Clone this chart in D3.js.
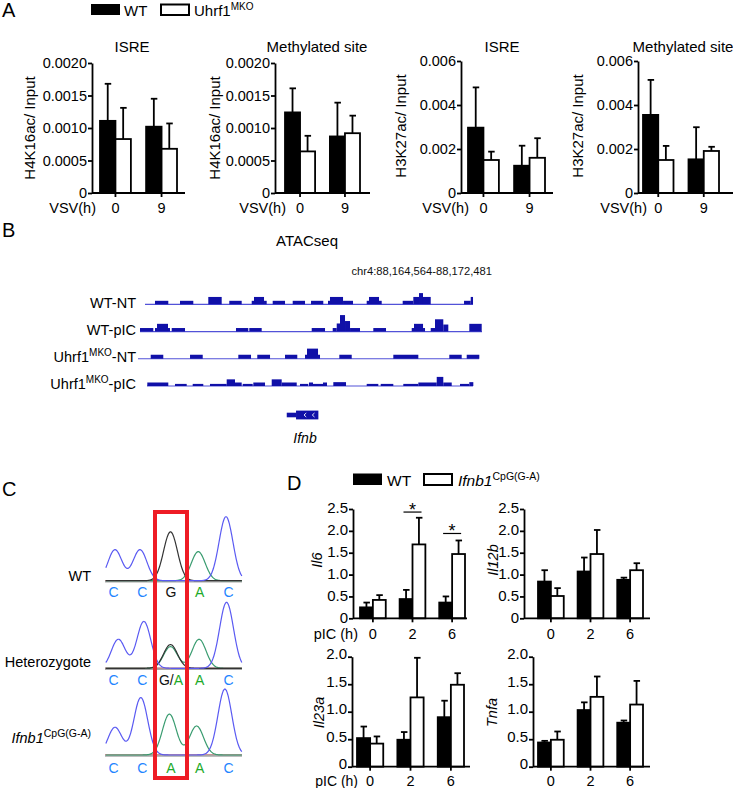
<!DOCTYPE html>
<html><head><meta charset="utf-8">
<script src="https://cdn.jsdelivr.net/npm/d3@7"></script>
<style>
body{margin:0;background:#fff;}
svg{display:block;font-family:"Liberation Sans",Arial,Helvetica,sans-serif;}
</style></head><body>
<svg id="fig" width="733" height="788"></svg>
<script>
// ================= DATA =================
// Panel A : ChIP-qPCR (mean, SEM), groups = VSV time (h)
const vsvTimes = ["0", "9"];
const legendA = ["WT", "Uhrf1", "MKO"];
const titlesA = ["ISRE", "Methylated site", "ISRE", "Methylated site"];
const ylabelsA = ["H4K16ac/ Input", "H4K16ac/ Input", "H3K27ac/ Input", "H3K27ac/ Input"];
const ticksH4 = [0, 0.0005, 0.0010, 0.0015, 0.0020];
const ticksH3 = [0, 0.002, 0.004, 0.006];
const h4IsreWT = [0.00111, 0.00102],  h4IsreWTsem = [0.00057, 0.00043];
const h4IsreKO = [0.00083, 0.00068],  h4IsreKOsem = [0.00048, 0.00039];
const h4MethWT = [0.00124, 0.00087],  h4MethWTsem = [0.00037, 0.00052];
const h4MethKO = [0.00064, 0.00092],  h4MethKOsem = [0.00024, 0.00027];
const h3IsreWT = [0.00297, 0.00124],  h3IsreWTsem = [0.00183, 0.00091];
const h3IsreKO = [0.00150, 0.00160],  h3IsreKOsem = [0.00038, 0.00089];
const h3MethWT = [0.00355, 0.00153],  h3MethWTsem = [0.00159, 0.00146];
const h3MethKO = [0.00150, 0.00191],  h3MethKOsem = [0.00064, 0.00019];

// Panel B : ATAC-seq tracks (bp offsets from chr4:88,164,564; signal units)
const atacTitle = "ATACseq";
const atacRegion = "chr4:88,164,564-88,172,481";
const atacLength = 7917;
const atacTracks = ["WT-NT", "WT-pIC", "Uhrf1MKO-NT", "Uhrf1MKO-pIC"];
const atacSpan = [[116, 7709], [0, 7917], [-46, 7848], [162, 7709]];
const atacWTNT = [[347,655,1],[926,1234,1],[1581,1891,2.1],[2067,2354,1],
  [2586,2639,1],[2639,2871,2.1],[2871,2933,1],[3072,3357,1],[3535,3820,1],[3959,4243,1],
  [4352,4398,1],[4398,4700,2.1],[4700,4931,1],[5248,5301,1],[5301,5533,2.1],[5533,5595,1],
  [6081,6327,1],[6327,6459,2.1],[6459,6551,3.2],[6551,6730,2.1],[7501,7656,1],[7656,7709,2.1]];
const atacWTpIC = [[0,308,1],[347,394,1],[394,648,2.2],[648,694,1],[734,1042,1],
  [2222,2507,1],[2530,2817,1],[3975,4283,1],
  [4461,4554,1],[4554,4630,2.3],[4630,4746,4.7],[4746,4862,3],[4862,5093,1],[5401,5695,1],
  [6290,6343,1],[6343,6552,2.2],[6552,6598,1],[6730,6829,1],[6829,7021,3.5],[7021,7137,2],
  [7623,7910,2.2]];
const atacKONT = [[248,539,1.15],[1158,1452,1.15],[2276,2570,1.15],[2715,3010,1.15],[3357,3641,1.15],
  [3820,3866,1.15],[3866,4121,2.9],[4121,4167,1.15],[4614,4901,1.15],[5864,6443,1.15],
  [7160,7447,1.15],[7563,7855,1.15]];
const atacKOpIC = [[169,655,1],[810,1081,0.6],[1220,1465,0.6],[1620,2007,0.6],[2007,2199,1.9],
  [2199,2354,1],[2377,2609,0.6],[2623,2894,1],[3049,3280,1.9],[3280,3628,1],[3704,3896,0.6],
  [3912,4005,1],[4005,4236,0.6],[4236,4329,1],[4475,4769,1.1],[5248,5517,0.6],[5572,5864,0.6],
  [6095,6443,0.6],[6443,6869,1],[6869,7021,2.6],[7021,7216,1],[7408,7623,0.6],[7623,7716,1.1]];
const geneName = "Ifnb";
const geneStart = 3397, geneCdsStart = 3612, geneEnd = 4129;
const geneArrows = [3820, 4012];

// Panel C : Sanger chromatograms. peaks: [channel, base position, amplitude]
const chromSamples = ["WT", "Heterozygote", "Ifnb1"];
const baseCalls = [["C","C","G","A","C"], ["C","C","G/A","A","C"], ["C","C","A","A","C"]];
const peaksWT  = [["C",0.0,47],["C",0.9,47],["G",2.0,74],["A",3.0,44],["C",4.0,97]];
const peaksHet = [["C",0.12,44],["C",1.04,71],["G",2.0,36],["A",2.0,33],["A",3.03,44],["C",4.02,100]];
const peaksMut = [["C",0.0,42],["C",0.93,87],["A",1.96,62],["A",2.94,44],["C",3.96,100]];

// Panel D : qPCR (mean, SEM), groups = pIC time (h)
const picTimes = ["0", "2", "6"];
const legendD = ["WT", "Ifnb1", "CpG(G-A)"];
const genesD = ["Il6", "Il12b", "Il23a", "Tnfa"];
const ticksDtop = [0, 0.5, 1.0, 1.5, 2.0, 2.5];
const ticksDbot = [0, 0.5, 1.0, 1.5, 2.0];
const il6WT  = [0.25, 0.44, 0.36], il6WTsem  = [0.11, 0.21, 0.14];
const il6KO  = [0.42, 1.69, 1.47], il6KOsem  = [0.11, 0.61, 0.31];
const il12bWT = [0.84, 1.07, 0.88], il12bWTsem = [0.26, 0.32, 0.05];
const il12bKO = [0.51, 1.47, 1.10], il12bKOsem = [0.18, 0.55, 0.16];
const il23aWT = [0.52, 0.49, 0.90], il23aWTsem = [0.21, 0.14, 0.30];
const il23aKO = [0.42, 1.26, 1.49], il23aKOsem = [0.13, 0.72, 0.21];
const tnfaWT = [0.44, 1.03, 0.80], tnfaWTsem = [0.03, 0.14, 0.04];
const tnfaKO = [0.49, 1.27, 1.13], tnfaKOsem = [0.15, 0.37, 0.43];
const il6Sig = [["2", 2.43], ["6", 1.94]];

// ================= DRAWING =================
const svg = d3.select("#fig");
const SW = 1.8;

function fmtTick(dec) { return v => v === 0 ? "0" : d3.format("." + dec + "f")(v); }

function barChart(c) {
  const g = svg.append("g");
  const y = d3.scaleLinear().domain([0, c.ticks[c.ticks.length - 1]]).range([c.y0, c.yTop]);
  const xb = d3.scaleBand().domain(c.groups).range(c.band).paddingInner(c.padIn).paddingOuter(0);
  const xs = d3.scaleBand().domain(["WT", "KO"]).range([0, xb.bandwidth()]);
  const rows = [];
  c.groups.forEach((grp, i) => {
    rows.push({grp, s: "WT", v: c.wt[i], e: c.wtSem[i]});
    rows.push({grp, s: "KO", v: c.ko[i], e: c.koSem[i]});
  });
  rows.forEach(d => {
    const cx = xb(d.grp) + xs(d.s) + xs.bandwidth() / 2;
    g.append("line").attr("x1", cx).attr("x2", cx).attr("y1", y(d.v)).attr("y2", y(d.v + d.e))
      .attr("stroke", "#000").attr("stroke-width", SW);
    g.append("line").attr("x1", cx - 3).attr("x2", cx + 3.5).attr("y1", y(d.v + d.e)).attr("y2", y(d.v + d.e))
      .attr("stroke", "#000").attr("stroke-width", SW);
  });
  g.selectAll("rect.bar").data(rows).join("rect").attr("class", "bar")
    .attr("x", d => xb(d.grp) + xs(d.s)).attr("width", xs.bandwidth())
    .attr("y", d => y(d.v)).attr("height", d => c.y0 - y(d.v))
    .attr("fill", d => d.s === "WT" ? "#000" : "#fff")
    .attr("stroke", "#000").attr("stroke-width", SW);
  const ya = g.append("g").attr("transform", `translate(${c.axisX},0)`)
    .call(d3.axisLeft(y).tickValues(c.ticks).tickFormat(fmtTick(c.dec)).tickSize(4).tickPadding(1).tickSizeOuter(0));
  ya.selectAll("path,line").attr("stroke", "#000").attr("stroke-width", SW);
  ya.selectAll("text").attr("font-size", c.tickFs).attr("fill", "#000").attr("font-family", null);
  if (c.tickDy) ya.selectAll("text").attr("dy", c.tickDy);
  g.append("line").attr("x1", c.axisX).attr("x2", c.axisEnd).attr("y1", c.y0).attr("y2", c.y0)
    .attr("stroke", "#000").attr("stroke-width", SW);
  c.groups.forEach(grp => {
    const cx = xb(grp) + xb.bandwidth() / 2;
    g.append("line").attr("x1", cx).attr("x2", cx).attr("y1", c.y0).attr("y2", c.y0 + 4)
      .attr("stroke", "#000").attr("stroke-width", SW);
    g.append("text").attr("x", cx).attr("y", c.y0 + c.xLabOff).attr("text-anchor", "middle")
      .attr("font-size", 14.5).text(grp);
  });
  if (c.xTitle) {
    g.append("text").attr("x", c.xTitleX).attr("y", c.y0 + c.xLabOff)
      .attr("text-anchor", "end").attr("font-size", c.xTitleFs || 14.5).text(c.xTitle);
  }
  if (c.title) {
    g.append("text").attr("x", c.titleX).attr("y", c.titleY).attr("text-anchor", "middle")
      .attr("font-size", 15).text(c.title);
  }
  g.append("text").attr("transform", `translate(${c.ylabX},${c.ylabY}) rotate(-90)`)
    .attr("text-anchor", "middle").attr("font-size", c.ylabFs)
    .attr("font-style", c.italic ? "italic" : null).text(c.ylab);
  return {g, xb, xs, y};
}

// ---------- panel letters ----------
[["A", 2, 17], ["B", 2, 237], ["C", 2, 496], ["D", 287, 490]].forEach(([t, x, y]) =>
  svg.append("text").attr("x", x).attr("y", y).attr("font-size", 20).text(t));

// ---------- Panel A ----------
{
  const lg = svg.append("g");
  lg.append("rect").attr("x", 91).attr("y", 4).attr("width", 29).attr("height", 11).attr("fill", "#000");
  lg.append("text").attr("x", 124).attr("y", 15.5).attr("font-size", 15).text(legendA[0]);
  lg.append("rect").attr("x", 161).attr("y", 4.5).attr("width", 28).attr("height", 10.5)
    .attr("fill", "#fff").attr("stroke", "#000").attr("stroke-width", 2);
  const t = lg.append("text").attr("x", 194).attr("y", 15.5).attr("font-size", 15);
  t.append("tspan").text(legendA[1]);
  t.append("tspan").attr("font-size", 10).attr("dy", -6).text(legendA[2]);

  const common = {groups: vsvTimes, y0: 193, padIn: 0.33, xLabOff: 19.7, tickFs: 14.5, ylabFs: 15, xTitle: "VSV(h)", titleY: 52};
  barChart(Object.assign({}, common, {wt: h4IsreWT, wtSem: h4IsreWTsem, ko: h4IsreKO, koSem: h4IsreKOsem,
    ticks: ticksH4, dec: 4, yTop: 63, axisX: 92, axisEnd: 185, band: [100, 177], xTitleX: 96,
    title: titlesA[0], titleX: 132, ylab: ylabelsA[0], ylabX: 34.5, ylabY: 128}));
  barChart(Object.assign({}, common, {wt: h4MethWT, wtSem: h4MethWTsem, ko: h4MethKO, koSem: h4MethKOsem,
    ticks: ticksH4, dec: 4, yTop: 63, axisX: 275, axisEnd: 370, band: [285, 360], xTitleX: 286,
    title: titlesA[1], titleX: 317, ylab: ylabelsA[1], ylabX: 219.5, ylabY: 128}));
  barChart(Object.assign({}, common, {wt: h3IsreWT, wtSem: h3IsreWTsem, ko: h3IsreKO, koSem: h3IsreKOsem,
    ticks: ticksH3, dec: 3, yTop: 61, axisX: 461, axisEnd: 553, band: [468, 545], xTitleX: 469,
    title: titlesA[2], titleX: 502, ylab: ylabelsA[2], ylabX: 406, ylabY: 126}));
  barChart(Object.assign({}, common, {wt: h3MethWT, wtSem: h3MethWTsem, ko: h3MethKO, koSem: h3MethKOsem,
    ticks: ticksH3, dec: 3, yTop: 61, axisX: 638, axisEnd: 733, band: [643, 719], xTitleX: 647,
    title: titlesA[3], titleX: 683, ylab: ylabelsA[3], ylabX: 583, ylabY: 126}));
}

// ---------- Panel B ----------
{
  const g = svg.append("g");
  g.append("text").attr("x", 307).attr("y", 246).attr("text-anchor", "middle").attr("font-size", 15).text(atacTitle);
  g.append("text").attr("x", 492).attr("y", 275).attr("text-anchor", "end").attr("font-size", 11.2).attr("fill", "#111").text(atacRegion);
  const xG = d3.scaleLinear().domain([0, atacLength]).range([140, 482]);
  const trackY = d3.scalePoint().domain(atacTracks).range([304.3, 386]);
  const sig = d3.scaleLinear().domain([0, 1]).range([0, 3.5]);
  const peaksAll = [atacWTNT, atacWTpIC, atacKONT, atacKOpIC];
  atacTracks.forEach((t, i) => {
    const yb = trackY(t);
    g.append("line").attr("x1", xG(atacSpan[i][0])).attr("x2", xG(atacSpan[i][1]))
      .attr("y1", yb).attr("y2", yb).attr("stroke", "#5252d8").attr("stroke-width", 1.2);
    g.selectAll(null).data(peaksAll[i]).join("rect")
      .attr("x", d => xG(d[0])).attr("width", d => xG(d[1]) - xG(d[0]))
      .attr("y", d => yb - sig(d[2])).attr("height", d => sig(d[2])).attr("fill", "#1010a8");
    const lab = g.append("text").attr("x", 136).attr("y", yb + 3.4).attr("text-anchor", "end").attr("font-size", 14.5);
    if (t.startsWith("Uhrf1MKO")) {
      lab.append("tspan").text("Uhrf1");
      lab.append("tspan").attr("font-size", 10).attr("dy", -6).text("MKO");
      lab.append("tspan").attr("dy", 6).text(t.replace("Uhrf1MKO", ""));
    } else lab.text(t);
  });
  const gy = 415;
  g.append("rect").attr("x", xG(geneStart)).attr("width", xG(geneCdsStart) - xG(geneStart))
    .attr("y", gy - 2.3).attr("height", 4.6).attr("fill", "#1010a8");
  g.append("rect").attr("x", xG(geneCdsStart)).attr("width", xG(geneEnd) - xG(geneCdsStart))
    .attr("y", gy - 4.4).attr("height", 8.8).attr("fill", "#1010a8");
  geneArrows.forEach(p => {
    const ax = xG(p);
    g.append("path").attr("d", `M${ax + 1.2},${gy - 2} L${ax - 1},${gy} L${ax + 1.2},${gy + 2}`)
      .attr("fill", "none").attr("stroke", "#fff").attr("stroke-width", 0.9);
  });
  g.append("text").attr("x", 305).attr("y", 443).attr("text-anchor", "middle")
    .attr("font-size", 14).attr("font-style", "italic").text(geneName);
}

// ---------- Panel C ----------
{
  const g = svg.append("g");
  const traceCol = {C: "#5a5af2", G: "#333333", A: "#3a9c70", T: "#e0303a"};
  const callCol = {C: "#1f86ff", G: "#111111", A: "#1eaa2a"};
  const baselines = [580.7, 668.3, 755];
  const labelY = [580.5, 667, 743];
  const callY = [597, 685, 773];
  const allPeaks = [peaksWT, peaksHet, peaksMut];
  const xPeak = d3.scaleLinear().domain([0, 4]).range([115, 226]);
  const xCall = d3.scalePoint().domain(d3.range(5)).range([113.5, 228.5]);
  const sigma = 0.25;
  chromSamples.forEach((name, si) => {
    const yb = baselines[si];
    const amp = d3.scaleLinear().domain([0, 100]).range([yb, yb - 66]);
    g.append("line").attr("x1", 105).attr("x2", 242).attr("y1", yb + 0.5).attr("y2", yb + 0.5)
      .attr("stroke", "#a8a8a8").attr("stroke-width", 2.5);
    g.append("line").attr("x1", 105).attr("x2", 242).attr("y1", yb - 0.3).attr("y2", yb - 0.3)
      .attr("stroke", traceCol.T).attr("stroke-width", 0.6).attr("opacity", 0.6);
    const pk = allPeaks[si];
    const tGrid = d3.range(-0.33, 4.58, 0.02);
    ["A", "G", "C"].forEach(ch => {
      const mine = pk.filter(p => p[0] === ch);
      if (!mine.length) return;
      const pts = tGrid.map(t => [xPeak(t), amp(d3.sum(mine, p => p[2] * Math.exp(-((t - p[1]) ** 2) / (2 * sigma * sigma))))]);
      g.append("path").attr("d", d3.line().curve(d3.curveBasis)(pts))
        .attr("fill", "none").attr("stroke", traceCol[ch]).attr("stroke-width", 1.2);
    });
    baseCalls[si].forEach((b, bi) => {
      const tx = g.append("text").attr("x", xCall(bi)).attr("y", callY[si]).attr("text-anchor", "middle").attr("font-size", 14);
      if (b.includes("/")) {
        const [b1, b2] = b.split("/");
        tx.append("tspan").attr("fill", callCol[b1]).text(b1 + "/");
        tx.append("tspan").attr("fill", callCol[b2]).text(b2);
      } else tx.attr("fill", callCol[b]).text(b);
    });
    const lab = g.append("text").attr("x", 91).attr("y", labelY[si]).attr("text-anchor", "end").attr("font-size", 14.5);
    if (name === "Ifnb1") {
      lab.append("tspan").attr("font-style", "italic").text("Ifnb1");
      lab.append("tspan").attr("font-size", 10.5).attr("dy", -6).text(legendD[2]);
    } else lab.text(name);
  });
  g.append("rect").attr("x", xCall(2) - 16).attr("y", 512).attr("width", 32).attr("height", 266)
    .attr("fill", "none").attr("stroke", "#ee1c25").attr("stroke-width", 4);
}

// ---------- Panel D ----------
{
  const lg = svg.append("g");
  lg.append("rect").attr("x", 353).attr("y", 473.5).attr("width", 29).attr("height", 11.5).attr("fill", "#000");
  lg.append("text").attr("x", 387).attr("y", 485.5).attr("font-size", 15.5).text(legendD[0]);
  lg.append("rect").attr("x", 424).attr("y", 474).attr("width", 28).attr("height", 11)
    .attr("fill", "#fff").attr("stroke", "#000").attr("stroke-width", 2);
  const t = lg.append("text").attr("x", 458).attr("y", 485.5).attr("font-size", 15.5);
  t.append("tspan").attr("font-style", "italic").text(legendD[1]);
  t.append("tspan").attr("font-size", 10.5).attr("dy", -6).text(legendD[2]);

  const top = {groups: picTimes, y0: 618.3, yTop: 509, ticks: ticksDtop, dec: 1, padIn: 0.35,
    xLabOff: 20.3, tickFs: 15, tickDy: "0.26em", ylabFs: 14.5, italic: true, ylabY: 560};
  const bot = {groups: picTimes, y0: 766.7, yTop: 656.7, ticks: ticksDbot, dec: 1, padIn: 0.35,
    xLabOff: 18.8, tickFs: 15, tickDy: "0.14em", ylabFs: 14.5, italic: true, ylabY: 712.5};
  const d1 = barChart(Object.assign({}, top, {wt: il6WT, wtSem: il6WTsem, ko: il6KO, koSem: il6KOsem,
    axisX: 353, axisEnd: 467, band: [360, 465], ylab: genesD[0], ylabX: 322, xTitle: "pIC (h)", xTitleX: 358}));
  barChart(Object.assign({}, top, {wt: il12bWT, wtSem: il12bWTsem, ko: il12bKO, koSem: il12bKOsem,
    axisX: 524, axisEnd: 650, band: [538, 643], ylab: genesD[1], ylabX: 497.5}));
  barChart(Object.assign({}, bot, {wt: il23aWT, wtSem: il23aWTsem, ko: il23aKO, koSem: il23aKOsem,
    axisX: 352, axisEnd: 470, band: [357, 464], ylab: genesD[2], ylabX: 323.5, xTitle: "pIC (h)", xTitleX: 358, xTitleFs: 14}));
  barChart(Object.assign({}, bot, {wt: tnfaWT, wtSem: tnfaWTsem, ko: tnfaKO, koSem: tnfaKOsem,
    axisX: 533, axisEnd: 650, band: [538, 643], ylab: genesD[3], ylabX: 497}));
  il6Sig.forEach(([grp, lvl]) => {
    const x0 = d1.xb(grp), bw = d1.xb.bandwidth();
    d1.g.append("line").attr("x1", x0 + bw * 0.15).attr("x2", x0 + bw * 0.85)
      .attr("y1", d1.y(lvl)).attr("y2", d1.y(lvl)).attr("stroke", "#000").attr("stroke-width", 1.2);
    d1.g.append("text").attr("x", x0 + bw / 2).attr("y", d1.y(lvl) + 3.5).attr("text-anchor", "middle")
      .attr("font-size", 18).text("*");
  });
}
</script>
</body></html>
